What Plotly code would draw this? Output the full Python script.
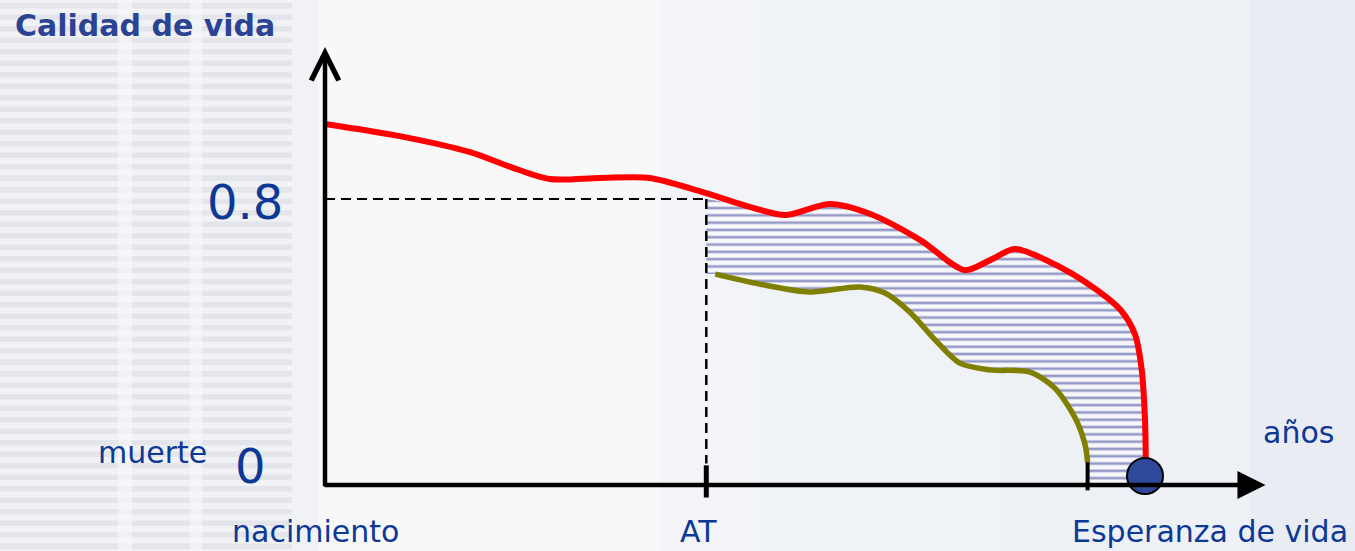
import plotly.graph_objects as go

# ---------------- data ----------------
# x: years (life expectancy = 100), y: quality of life (0..1)
red_x = [0, 9.1, 17.7, 22.6, 27.4, 33.5, 39.6, 45.7, 51.8, 56.1, 61.6, 66.5,
         72.6, 78.0, 81.1, 84.1, 88.4, 93.3, 97.0, 98.8, 99.6, 100.0, 100.1]
red_y = [1.010, 0.976, 0.931, 0.890, 0.856, 0.859, 0.859, 0.822, 0.778, 0.755,
         0.786, 0.758, 0.685, 0.601, 0.629, 0.660, 0.624, 0.559, 0.490, 0.420,
         0.322, 0.182, 0.064]

green_x = [47.6, 53.0, 59.1, 65.2, 68.3, 71.3, 74.4, 77.4, 81.1, 86.0, 89.0,
           91.5, 92.7, 93.0]
green_y = [0.590, 0.562, 0.540, 0.554, 0.537, 0.484, 0.406, 0.341, 0.322,
           0.316, 0.271, 0.187, 0.112, 0.064]

AT = 46.5            # age at the event
Q_AT = 0.8           # quality of life marked on the y axis
LIFE_EXP = 100.0     # life expectancy
X_END = 114.7        # end of the time axis (arrow tip)
Y_END = 1.225        # end of the quality axis (arrow tip)

y_ticks = [0.8, 0]
y_tick_labels = ["0.8", "0"]

LABEL_BLUE = "#0c3896"
TITLE_BLUE = "#2b4392"
FONT = "DejaVu Sans"

fig = go.Figure()

# ---------------- hatched area between the two curves ----------------
lower_x = [AT] + green_x + [green_x[-1], red_x[-1]]
lower_y = [green_y[0]] + green_y + [0.006, 0.006]
upper_x = [AT] + [x for x in red_x if x > AT + 3] + [red_x[-1]]
upper_y = [Q_AT] + [y for x, y in zip(red_x, red_y) if x > AT + 3] + [0.006]

fig.add_trace(go.Scatter(x=lower_x, y=lower_y, mode="lines",
                         line=dict(width=0, shape="spline", smoothing=0.8),
                         hoverinfo="skip", showlegend=False))
fig.add_trace(go.Scatter(x=upper_x, y=upper_y, mode="lines",
                         line=dict(width=0, shape="spline", smoothing=0.8),
                         fill="tonexty", fillcolor="rgba(0,0,0,0)",
                         fillpattern=dict(shape="-", size=7.3, solidity=0.36,
                                          fgcolor="rgba(30,40,140,0.9)",
                                          bgcolor="rgba(255,255,255,0.45)"),
                         hoverinfo="skip", showlegend=False))

# ---------------- dashed guide lines ----------------
fig.add_trace(go.Scatter(x=[0, AT], y=[Q_AT, Q_AT], mode="lines",
                         line=dict(color="black", width=2, dash="10px,6px"),
                         hoverinfo="skip", showlegend=False))
fig.add_trace(go.Scatter(x=[AT, AT], y=[Q_AT, 0.06], mode="lines",
                         line=dict(color="black", width=2.5, dash="10px,6px"),
                         hoverinfo="skip", showlegend=False))

# ---------------- curves ----------------
fig.add_trace(go.Scatter(x=red_x, y=red_y, mode="lines",
                         line=dict(color="#ff0000", width=6, shape="spline", smoothing=0.8),
                         hoverinfo="skip", showlegend=False))
fig.add_trace(go.Scatter(x=green_x, y=green_y, mode="lines",
                         line=dict(color="#7f7f00", width=5.5, shape="spline", smoothing=0.8),
                         hoverinfo="skip", showlegend=False))

# ---------------- axis ticks at AT and at end of green curve ----------------
fig.add_trace(go.Scatter(x=[AT, AT], y=[-0.035, 0.055], mode="lines",
                         line=dict(color="black", width=5),
                         hoverinfo="skip", showlegend=False))
fig.add_trace(go.Scatter(x=[green_x[-1], green_x[-1]], y=[-0.015, green_y[-1]], mode="lines",
                         line=dict(color="black", width=4),
                         hoverinfo="skip", showlegend=False))

# ---------------- axes as arrows ----------------
fig.add_annotation(x=X_END, y=0, ax=-0.25, ay=0, xref="x", yref="y",
                   axref="x", ayref="y", text="", showarrow=True,
                   arrowhead=2, arrowsize=1.25, arrowwidth=4.5, arrowcolor="black",
                   standoff=0)
fig.add_annotation(x=0, y=Y_END, ax=0, ay=-0.008, xref="x", yref="y",
                   axref="x", ayref="y", text="", showarrow=True,
                   arrowhead=5, arrowsize=1.2, arrowwidth=4.5, arrowcolor="black",
                   standoff=0)

# ---------------- life expectancy dot ----------------
fig.add_trace(go.Scatter(x=[LIFE_EXP], y=[0.025], mode="markers",
                         marker=dict(size=36, color="#2f4a9a",
                                     line=dict(color="black", width=2)),
                         hoverinfo="skip", showlegend=False))

# ---------------- texts ----------------
for v, lab in zip(y_ticks, y_tick_labels):
    fig.add_annotation(x=-4.9 if v else -6.9, y=v - 0.008 if v else 0.053,
                       text=lab, showarrow=False, xanchor="right", yanchor="middle",
                       font=dict(family=FONT, size=48, color=LABEL_BLUE))

fig.add_annotation(x=-38.1, y=1.284, text="<b>Calidad de vida</b>", showarrow=False,
                   xanchor="left", yanchor="middle",
                   font=dict(family=FONT, size=30, color=TITLE_BLUE))
fig.add_annotation(x=-14.2, y=0.09, text="muerte", showarrow=False,
                   xanchor="right", yanchor="middle",
                   font=dict(family=FONT, size=30, color=LABEL_BLUE))
BOTTOM_Y = -0.131
for xpos, lab in [(-1.1, "nacimiento"), (45.6, "AT"), (107.9, "Esperanza de vida")]:
    fig.add_annotation(x=xpos, y=BOTTOM_Y, text=lab, showarrow=False,
                       xanchor="center", yanchor="middle", borderpad=0,
                       font=dict(family=FONT, size=30, color=LABEL_BLUE))
fig.add_annotation(x=118.7, y=0.148, text="años", showarrow=False,
                   xanchor="center", yanchor="middle",
                   font=dict(family=FONT, size=30, color=LABEL_BLUE))

# ---------------- background decoration ----------------
W, H = 1355, 551
shapes = []
shapes.append(dict(type="rect", xref="paper", yref="paper", x0=0, x1=318 / W, y0=0, y1=1,
                   fillcolor="#f1f2f5", line=dict(width=0), layer="below"))
k = 0
while k * 11.5 < H:
    y0 = 1 - (k * 11.5 + 3) / H
    y1 = 1 - (k * 11.5 + 8.5) / H
    shapes.append(dict(type="rect", xref="paper", yref="paper", x0=0, x1=292 / W,
                       y0=max(y1, 0), y1=y0, fillcolor="#e3e5ea",
                       line=dict(width=0), layer="below"))
    k += 1
for xa, xb in [(118, 132), (190, 202)]:
    shapes.append(dict(type="rect", xref="paper", yref="paper", x0=xa / W, x1=xb / W,
                       y0=0, y1=1, fillcolor="rgba(248,248,250,0.6)",
                       line=dict(width=0), layer="below"))
for xa, xb, col in [(660, 760, "#f3f4f8"), (760, 1000, "#eff2f6"),
                    (1000, 1250, "#edf0f5"), (1250, 1355, "#e9edf3")]:
    shapes.append(dict(type="rect", xref="paper", yref="paper", x0=xa / W, x1=xb / W,
                       y0=0, y1=1, fillcolor=col, line=dict(width=0), layer="below"))

# px = 325 + x*8.2 ; py = 485 - y*357.5
fig.update_layout(
    width=W, height=H,
    margin=dict(l=0, r=0, t=0, b=0),
    paper_bgcolor="#f8f8f8", plot_bgcolor="rgba(0,0,0,0)",
    xaxis=dict(range=[-325 / 8.2, (W - 325) / 8.2], visible=False, fixedrange=True),
    yaxis=dict(range=[(485 - H) / 357.5, 485 / 357.5], visible=False, fixedrange=True),
    shapes=shapes,
    showlegend=False,
)

fig.write_html("out.html",
               config={"displayModeBar": False, "staticPlot": True},
               post_script="document.body.style.margin='0';"
                           "document.body.style.overflow='hidden';")
